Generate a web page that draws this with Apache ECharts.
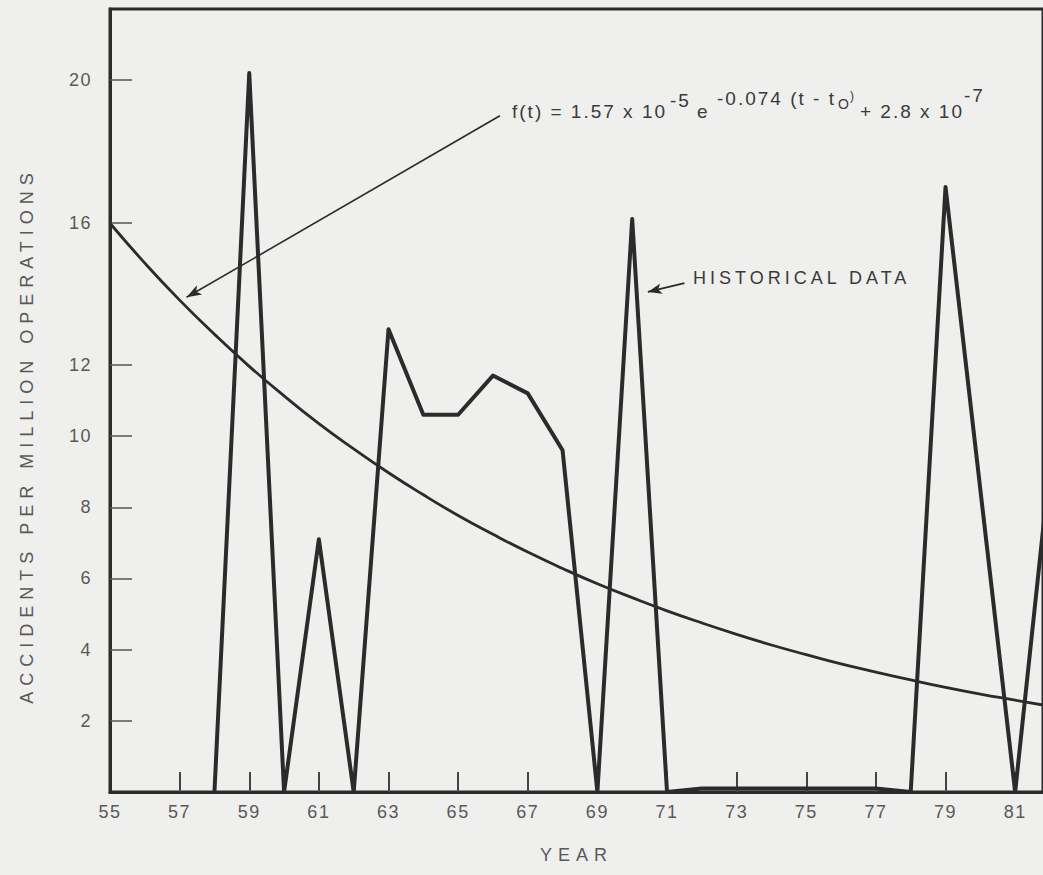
<!DOCTYPE html>
<html>
<head>
<meta charset="utf-8">
<title>Accidents per million operations</title>
<script src="https://cdn.jsdelivr.net/npm/echarts@6.0.0/dist/echarts.min.js"></script>
<style>
  html, body { margin: 0; padding: 0; background: #efefed; }
  #chart { width: 1043px; height: 875px; }
  /* typewriter-like tracking of the lettering, keyed on the fallback family name */
  #chart text[style*="Arial"] { letter-spacing: 6px; }
  #chart text[style*="Helvetica"] { letter-spacing: 4px; }
  #chart text[style*="Arimo"] { letter-spacing: 1.5px; }
  #chart text[style*="FreeSans"] { letter-spacing: 2px; }
</style>
</head>
<body>
<div id="chart"></div>
<script>
// Fitted curve f(t), in accidents per million operations, one value per year
const curveYears = [55, 56, 57, 58, 59, 60, 61, 62, 63, 64, 65, 66, 67, 68,
                    69, 70, 71, 72, 73, 74, 75, 76, 77, 78, 79, 80, 81, 82];
const curveValues = [15.98, 14.86, 13.82, 12.86, 11.96, 11.13, 10.35, 9.64, 8.97, 8.35, 7.77, 7.24, 6.74, 6.28,
                     5.85, 5.46, 5.09, 4.75, 4.43, 4.13, 3.86, 3.60, 3.37, 3.15, 2.94, 2.75, 2.58, 2.41];

// Historical accident rate
const histYears = [58, 59, 60, 61, 62, 63, 64, 65, 66, 67, 68, 69, 70, 71,
                   72, 73, 74, 75, 76, 77, 78, 79, 81, 82];
const histValues = [0, 20.2, 0, 7.1, 0, 13.0, 10.6, 10.6, 11.7, 11.2, 9.6, 0, 16.1, 0,
                    0.1, 0.1, 0.1, 0.1, 0.1, 0.1, 0, 17.0, 0, 9.2];

// Axis tick labels
const yTickValues = [2, 4, 6, 8, 10, 12, 16, 20];
const xTickValues = [55, 57, 59, 61, 63, 65, 67, 69, 71, 73, 75, 77, 79, 81];

const INK = '#2b2b2b';
const LABEL = '#595959';
const TICK_FONT = 'Liberation Sans, Arimo';
const NAME_FONT = 'Liberation Sans, Arial';
const NOTE_FONT = 'Liberation Sans, Helvetica';
const FORMULA_FONT = 'Liberation Sans, FreeSans';

const chart = echarts.init(document.getElementById('chart'), null, { renderer: 'svg' });

function formulaPiece(text, x, y, size) {
  return {
    type: 'text', x: x, y: y, silent: true,
    style: {
      text: text, fontSize: size, fontFamily: FORMULA_FONT, fill: '#3a3a3a',
      textAlign: 'left', textVerticalAlign: 'middle'
    }
  };
}

const option = {
  animation: false,
  backgroundColor: '#efefed',
  grid: {
    left: 110, right: 0, top: 9, bottom: 83,
    show: true, borderColor: INK, borderWidth: 3, backgroundColor: 'transparent'
  },
  xAxis: {
    type: 'value', min: 55, max: 81.8,
    name: 'YEAR', nameLocation: 'middle', nameGap: 54,
    nameTextStyle: { fontSize: 18, fontFamily: NAME_FONT, color: LABEL },
    axisLine: { show: true, lineStyle: { color: INK, width: 3 } },
    axisTick: {
      show: true, inside: true, length: 20,
      customValues: xTickValues.slice(1),
      lineStyle: { color: '#444', width: 2 }
    },
    axisLabel: {
      customValues: xTickValues, margin: 11,
      fontSize: 18, fontFamily: TICK_FONT, color: LABEL
    },
    splitLine: { show: false }
  },
  yAxis: {
    type: 'value', min: 0, max: 22, interval: 2,
    name: 'ACCIDENTS PER MILLION OPERATIONS', nameLocation: 'middle', nameRotate: 90,
    nameGap: 74,
    nameTextStyle: { fontSize: 18, fontFamily: NAME_FONT, color: LABEL, padding: [0, 70, 0, 0] },
    axisLine: { show: true, lineStyle: { color: INK, width: 3 } },
    axisTick: {
      show: true, inside: true, length: 22,
      customValues: yTickValues,
      lineStyle: { color: '#555', width: 1.5 }
    },
    axisLabel: {
      customValues: yTickValues, margin: 18,
      fontSize: 18, fontFamily: TICK_FONT, color: LABEL
    },
    splitLine: { show: false }
  },
  series: [
    {
      name: 'f(t)', type: 'line',
      data: curveYears.map((y, i) => [y, curveValues[i]]),
      smooth: 0.5, showSymbol: false, silent: true,
      lineStyle: { color: INK, width: 2.8 },
      markLine: {
        silent: true, symbol: ['none', 'arrow'], symbolSize: [8, 15],
        label: { show: false },
        lineStyle: { color: INK, width: 1.6, type: 'solid' },
        data: [[{ coord: [66.2, 19.0] }, { coord: [57.2, 13.9] }]]
      }
    },
    {
      name: 'HISTORICAL DATA', type: 'line',
      data: histYears.map((y, i) => [y, histValues[i]]),
      showSymbol: false, silent: true,
      lineStyle: { color: INK, width: 4, join: 'round', cap: 'round' },
      markLine: {
        silent: true, symbol: ['none', 'arrow'], symbolSize: [8, 14],
        label: { show: false },
        lineStyle: { color: INK, width: 1.8, type: 'solid' },
        data: [[{ coord: [71.5, 14.3] }, { coord: [70.45, 14.05] }]]
      }
    }
  ],
  graphic: [
    {
      type: 'text', x: 693, y: 278, silent: true,
      style: {
        text: 'HISTORICAL DATA', fontSize: 18, fontFamily: NOTE_FONT, fill: '#3a3a3a',
        textAlign: 'left', textVerticalAlign: 'middle'
      }
    },
    formulaPiece('f(t) = 1.57 x 10', 512, 111, 19),
    formulaPiece('-5', 670, 100, 19),
    formulaPiece('e', 697, 111, 19),
    formulaPiece('-0.074 (t - t', 717, 98, 19),
    formulaPiece('O', 838, 104, 14),
    formulaPiece(')', 850, 96, 12),
    formulaPiece('+ 2.8 x 10', 860, 111, 19),
    formulaPiece('-7', 964, 95, 19)
  ]
};

chart.setOption(option);
</script>
</body>
</html>
